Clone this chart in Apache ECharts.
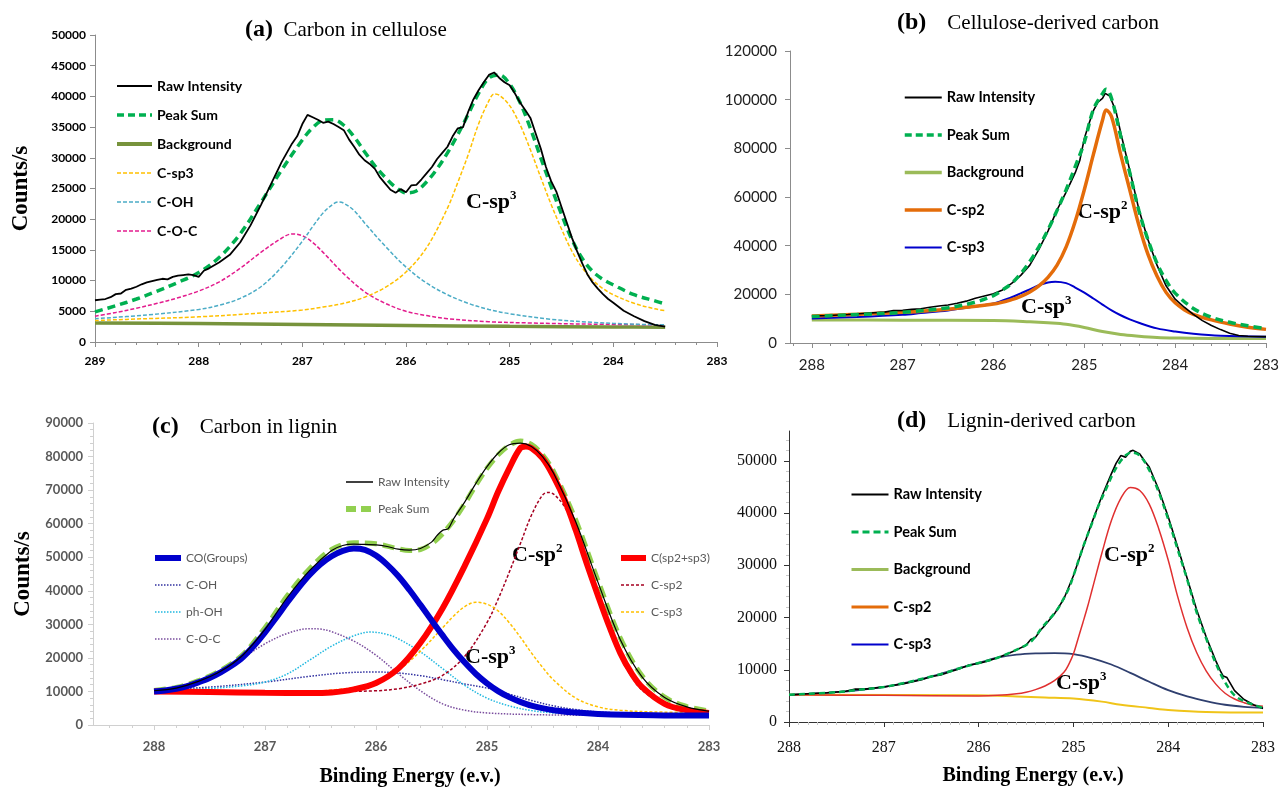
<!DOCTYPE html>
<html>
<head>
<meta charset="utf-8">
<title>C1s spectra of cellulose and lignin carbons</title>
<script src="https://cdn.jsdelivr.net/npm/echarts@6.0.0/dist/echarts.min.js"></script>
<style>
  html, body { margin: 0; padding: 0; background: #fff; }
  #chart { width: 1280px; height: 788px; }
</style>
</head>
<body>
<div id="chart"></div>
<script>
// tick labels
const xTicksA = [289, 288, 287, 286, 285, 284, 283]
const xTicks = [288, 287, 286, 285, 284, 283]
const yTicksA = [0, 5000, 10000, 15000, 20000, 25000, 30000, 35000, 40000, 45000, 50000]
const yTicksB = [0, 20000, 40000, 60000, 80000, 100000, 120000]
const yTicksC = [0, 10000, 20000, 30000, 40000, 50000, 60000, 70000, 80000, 90000]
const yTicksD = [0, 10000, 20000, 30000, 40000, 50000]

// (a) carbon in cellulose  [binding energy, counts/s]
const aRaw = [[289.0,6800],[288.95,6900],[288.9,7000],[288.85,7300],[288.8,7800],[288.75,7900],[288.7,8500],[288.65,8700],[288.6,9000],[288.55,9400],[288.5,9700],[288.45,9900],[288.4,10100],[288.35,10300],[288.3,10200],[288.25,10600],[288.2,10800],[288.15,10900],[288.1,11000],[288.05,10900],[288.0,10600],[287.95,11600],[287.9,12000],[287.8,13000],[287.7,14200],[287.6,16200],[287.5,19000],[287.4,22300],[287.3,25800],[287.2,29300],[287.1,32300],[287.05,33500],[287.0,35500],[286.95,37000],[286.9,36600],[286.85,36200],[286.8,35700],[286.75,35900],[286.7,35500],[286.65,35000],[286.6,34500],[286.55,33000],[286.5,31800],[286.45,30500],[286.4,29600],[286.35,29000],[286.3,28200],[286.25,26800],[286.2,25800],[286.15,24800],[286.1,24300],[286.05,24900],[286.0,24400],[285.95,25500],[285.9,25600],[285.85,26500],[285.8,27500],[285.75,28500],[285.7,29800],[285.65,30800],[285.6,31800],[285.55,33500],[285.5,34800],[285.45,35000],[285.4,37500],[285.35,39500],[285.3,41000],[285.25,42300],[285.2,43500],[285.15,43900],[285.1,43000],[285.05,42300],[285.0,41800],[284.95,40500],[284.9,39000],[284.85,37800],[284.8,36500],[284.75,34000],[284.7,31500],[284.65,28500],[284.6,26200],[284.55,24500],[284.5,22000],[284.45,19500],[284.4,17000],[284.35,14800],[284.3,12800],[284.25,11000],[284.2,9700],[284.15,8700],[284.1,7800],[284.05,7000],[284.0,6400],[283.9,5100],[283.8,4200],[283.7,3400],[283.6,2800],[283.5,2500]]
const aSum = [[289,4900],[288.8,5900],[288.6,7000],[288.4,8300],[288.2,9700],[288,11300],[287.8,13800],[287.6,17600],[287.4,22700],[287.2,28000],[287,32900],[286.9,34900],[286.8,36100],[286.7,36200],[286.6,35300],[286.5,33400],[286.4,31000],[286.3,28700],[286.2,26800],[286.1,25200],[286,24300],[285.9,24600],[285.8,26100],[285.7,28200],[285.6,30800],[285.5,33800],[285.4,37100],[285.3,40500],[285.2,43000],[285.1,43500],[285,42000],[284.9,39000],[284.8,34800],[284.7,30000],[284.6,25300],[284.5,20800],[284.4,16700],[284.3,13600],[284.2,11500],[284.1,10200],[284,9300],[283.8,7700],[283.6,6700],[283.5,6200]]
const aBg = [[289,3100],[288,3000],[287,2850],[286,2700],[285,2550],[284,2450],[283.5,2400]]
const aSp3 = [[289,3500],[288.5,3800],[288,4100],[287.5,4600],[287,5200],[286.8,5700],[286.6,6300],[286.4,7300],[286.2,8900],[286,11400],[285.8,15400],[285.6,21800],[285.5,26000],[285.4,30500],[285.3,35500],[285.2,39300],[285.15,40400],[285.1,40200],[285,38500],[284.9,35400],[284.8,31300],[284.7,26800],[284.6,22400],[284.5,18400],[284.4,14800],[284.3,12100],[284.2,10100],[284.1,8700],[284,7700],[283.8,6300],[283.6,5400],[283.5,5100]]
const aCOH = [[289,3800],[288.5,4400],[288,5300],[287.8,6000],[287.6,7100],[287.4,9000],[287.2,12200],[287,16400],[286.9,18800],[286.8,21000],[286.7,22500],[286.65,22800],[286.6,22600],[286.5,21400],[286.4,19400],[286.2,15600],[286,12200],[285.8,9600],[285.6,7700],[285.4,6300],[285.2,5300],[285,4600],[284.6,3700],[284.2,3200],[283.8,2900],[283.5,2800]]
const aCOC = [[289,4200],[288.8,4800],[288.6,5500],[288.4,6300],[288.2,7200],[288,8300],[287.8,9800],[287.6,12000],[287.4,14600],[287.2,16900],[287.1,17600],[287,17300],[286.9,16200],[286.8,14600],[286.6,11100],[286.4,8200],[286.2,6300],[286,5000],[285.8,4300],[285.6,3800],[285.2,3300],[284.8,3100],[284.2,2900],[283.5,2800]]

// (b) cellulose-derived carbon
const bRaw = [[288,11100],[287.8,11300],[287.6,11700],[287.4,12200],[287.2,12700],[287.1,13300],[287.0,13400],[286.9,13800],[286.8,14100],[286.7,14700],[286.6,15200],[286.5,15600],[286.4,16300],[286.3,17200],[286.2,18400],[286.1,19300],[286.0,20200],[285.9,21800],[285.8,24500],[285.7,27800],[285.6,32000],[285.5,38500],[285.4,46000],[285.3,54700],[285.2,62000],[285.1,70000],[285.05,75000],[285.0,84000],[284.95,90000],[284.9,95500],[284.85,99000],[284.8,100500],[284.77,102600],[284.72,101500],[284.65,95000],[284.6,86500],[284.5,71000],[284.4,55000],[284.3,42500],[284.2,32000],[284.1,23500],[284.0,18000],[283.9,14700],[283.8,11800],[283.7,9200],[283.6,7200],[283.5,5500],[283.4,4000],[283.3,3100],[283.2,2800],[283.0,2600]]
const bSum = [[288,10900],[287.5,11700],[287,12600],[286.5,14500],[286.2,16800],[286,19500],[285.9,21800],[285.8,24500],[285.7,28500],[285.6,33500],[285.5,39500],[285.4,46500],[285.3,54500],[285.2,63000],[285.1,72500],[285,82500],[284.9,96000],[284.8,102500],[284.76,104300],[284.7,100500],[284.6,85000],[284.5,70000],[284.4,54500],[284.3,42500],[284.2,32800],[284.1,25700],[284,20500],[283.8,14200],[283.6,10600],[283.4,8500],[283.2,7100],[283,5900]]
const bBg = [[288,9500],[287,9400],[286,9200],[285.6,8700],[285.4,8300],[285.2,7700],[285,6400],[284.8,4700],[284.6,3500],[284.4,2800],[284.2,2300],[284,2100],[283.5,1900],[283,1900]]
const bSp2 = [[288,11100],[287.5,11800],[287,12600],[286.5,13900],[286,16000],[285.8,17800],[285.7,19200],[285.6,21000],[285.5,23500],[285.4,27000],[285.3,32000],[285.2,39500],[285.1,50000],[285,63000],[284.9,77500],[284.8,91500],[284.76,95800],[284.7,93000],[284.6,77500],[284.5,63000],[284.4,48500],[284.3,36500],[284.2,27500],[284.1,20800],[284,16500],[283.9,13700],[283.8,11800],[283.6,9500],[283.4,7800],[283.2,6500],[283,5600]]
const bSp3 = [[288,10100],[287.5,10700],[287,11600],[286.8,12300],[286.5,13400],[286.2,15000],[286,16200],[285.8,18800],[285.7,20400],[285.6,22000],[285.5,23800],[285.4,24900],[285.32,25200],[285.2,24600],[285.1,22800],[285,20700],[284.9,18300],[284.8,15800],[284.7,13400],[284.6,11400],[284.5,9700],[284.4,8300],[284.2,6000],[284,4700],[283.8,3800],[283.5,3000],[283,2600]]

// (c) carbon in lignin
const cRaw = [[288,10200],[287.8,11000],[287.6,13000],[287.4,16000],[287.2,20800],[287,28500],[286.8,38000],[286.6,46000],[286.4,52000],[286.3,53500],[286.2,53900],[286.1,53800],[286,53700],[285.9,53200],[285.8,52400],[285.7,52100],[285.6,52600],[285.5,54500],[285.45,56500],[285.4,58000],[285.35,58500],[285.3,61500],[285.2,66500],[285.1,72000],[285,77000],[284.9,81000],[284.8,83500],[284.7,84000],[284.6,83000],[284.5,80000],[284.4,75000],[284.2,60500],[284,42500],[283.8,25500],[283.6,14200],[283.4,8200],[283.2,5400],[283,4100]]
const cSum = [[288,10300],[287.8,11200],[287.6,13200],[287.4,16300],[287.2,21000],[287,29000],[286.8,38500],[286.6,46500],[286.4,52300],[286.2,54300],[286,54000],[285.8,52500],[285.7,52000],[285.6,52300],[285.5,54000],[285.4,57000],[285.3,61000],[285.2,66000],[285.1,71500],[285,76500],[284.9,80500],[284.8,83300],[284.7,84600],[284.6,83600],[284.5,80500],[284.4,75500],[284.2,61000],[284,43000],[283.8,26000],[283.6,14500],[283.4,8300],[283.2,5500],[283,4200]]
const cCO = [[288,10000],[287.9,10300],[287.8,10800],[287.7,11600],[287.6,12700],[287.5,14000],[287.4,15700],[287.3,17700],[287.2,20200],[287.1,23600],[287,27600],[286.9,32000],[286.8,36500],[286.7,40800],[286.6,44700],[286.5,47900],[286.4,50300],[286.3,51900],[286.2,52600],[286.1,52200],[286,50500],[285.9,47800],[285.8,44400],[285.7,40300],[285.6,35800],[285.5,31200],[285.4,26700],[285.3,22400],[285.2,18600],[285.1,15200],[285,12400],[284.9,10100],[284.8,8300],[284.7,6900],[284.6,5800],[284.4,4400],[284.2,3700],[284,3300],[283.5,2900],[283,2800]]
const cCOH = [[288,10500],[287.5,11300],[287,12800],[286.6,14500],[286.3,15500],[286,15800],[285.8,15500],[285.6,14700],[285.4,13500],[285.2,12200],[285,11000],[284.8,9200],[284.6,7300],[284.4,5700],[284.2,4600],[284,3900],[283.5,3200],[283,3000]]
const cPhOH = [[288,10200],[287.5,10900],[287.2,11700],[287,12800],[286.8,15200],[286.6,19300],[286.4,23500],[286.2,26600],[286.05,27700],[285.9,27000],[285.8,25700],[285.6,21800],[285.4,16800],[285.2,11800],[285,8000],[284.8,5700],[284.6,4300],[284.4,3600],[284,3100],[283,2900]]
const cCOC = [[288,10200],[287.8,11400],[287.6,13300],[287.4,16200],[287.2,20000],[287,24200],[286.8,27300],[286.6,28700],[286.5,28600],[286.4,27800],[286.2,25000],[286,20800],[285.8,15300],[285.6,10200],[285.4,6300],[285.2,4400],[285,3600],[284.6,3100],[284,2900],[283,2800]]
const cSp23 = [[288,10000],[287.5,9800],[287,9600],[286.6,9500],[286.4,9700],[286.2,10600],[286,12500],[285.8,16800],[285.6,24500],[285.4,34800],[285.2,47500],[285,61500],[284.9,69500],[284.8,76500],[284.7,82500],[284.65,83000],[284.6,82500],[284.5,79500],[284.4,74000],[284.3,67000],[284.2,58000],[284.1,48000],[284,38500],[283.9,29500],[283.8,21500],[283.7,15500],[283.6,11200],[283.4,6300],[283.2,4400],[283,3600]]
const cSp2 = [[288,10000],[287,9900],[286.4,10000],[286,10200],[285.8,10800],[285.6,12200],[285.4,14800],[285.2,20500],[285,30500],[284.9,37500],[284.8,45500],[284.7,54000],[284.6,62500],[284.5,68500],[284.45,69300],[284.4,68800],[284.3,65000],[284.2,57500],[284.1,48000],[284,38000],[283.9,28500],[283.8,20500],[283.7,14500],[283.6,10300],[283.4,6000],[283.2,4300],[283,3700]]
const cSp3 = [[288,10000],[287,9900],[286.6,10000],[286.4,10400],[286.2,11200],[286,12800],[285.8,16300],[285.6,22000],[285.4,29000],[285.3,32500],[285.2,35300],[285.1,36600],[285,36000],[284.9,34000],[284.8,30500],[284.7,26200],[284.6,21500],[284.5,17200],[284.4,13400],[284.2,8000],[284,5400],[283.8,4400],[283.5,3900],[283,3700]]

// (d) lignin-derived carbon
const dRaw = [[288,5200],[287.8,5400],[287.6,5600],[287.4,5900],[287.3,6300],[287.2,6300],[287,6700],[286.8,7300],[286.6,8100],[286.5,8700],[286.4,9000],[286.3,9600],[286.2,10200],[286.1,10900],[286,11200],[285.9,11700],[285.8,12300],[285.7,13000],[285.6,13800],[285.5,14700],[285.45,15800],[285.4,16200],[285.35,17500],[285.3,18500],[285.2,20700],[285.1,23600],[285,28000],[284.9,33300],[284.8,38400],[284.7,43200],[284.6,47500],[284.55,49500],[284.5,51000],[284.45,50700],[284.4,51800],[284.37,52000],[284.3,51300],[284.25,50000],[284.2,48800],[284.1,44500],[284,39300],[283.9,33500],[283.8,27500],[283.7,21500],[283.6,16300],[283.5,11800],[283.45,9800],[283.42,8800],[283.38,8500],[283.3,6000],[283.2,4300],[283.1,3300],[283,2600]]
const dSum = [[288,5200],[287.5,5700],[287.3,6100],[287,6700],[286.8,7400],[286.5,8700],[286.35,9400],[286.2,10300],[286,11300],[285.8,12300],[285.68,13200],[285.5,14700],[285.43,15700],[285.32,18300],[285.2,20800],[285.15,22100],[285.05,25500],[284.99,28500],[284.93,31800],[284.87,34900],[284.8,38200],[284.74,41200],[284.65,44800],[284.58,47600],[284.5,50000],[284.45,51000],[284.39,51600],[284.3,51000],[284.2,48200],[284.1,44000],[284,38800],[283.9,33000],[283.8,27300],[283.7,21000],[283.6,16000],[283.5,11300],[283.4,7600],[283.3,5100],[283.2,4000],[283.1,3300],[283,2700]]
const dBg = [[288,5200],[286,5100],[285.6,4900],[285.3,4700],[285,4500],[284.7,3900],[284.5,3300],[284.2,2700],[284,2300],[283.6,1900],[283,1800]]
const dSp2 = [[288,5200],[287,5100],[286,5000],[285.8,5100],[285.6,5400],[285.5,5700],[285.4,6200],[285.3,6900],[285.2,7900],[285.1,9500],[285.05,11000],[285,13000],[284.95,16000],[284.9,19000],[284.85,22100],[284.8,25500],[284.7,32300],[284.6,38500],[284.5,42800],[284.4,44900],[284.3,44300],[284.2,41700],[284.1,37000],[284,31000],[283.9,24000],[283.8,18000],[283.7,13300],[283.6,9800],[283.5,7300],[283.4,5500],[283.3,4400],[283.2,3700],[283.1,3200],[283,3000]]
const dSp3 = [[288,5200],[287.5,5700],[287,6700],[286.8,7400],[286.5,8700],[286.2,10300],[286,11300],[285.8,12300],[285.6,12900],[285.4,13150],[285.2,13200],[285,13000],[284.8,12200],[284.6,11000],[284.4,9400],[284.2,7700],[284,6100],[283.8,4900],[283.6,4000],[283.4,3300],[283.2,2900],[283,2700]]

const serif = '"Liberation Serif", "Times New Roman", serif'
const sans = 'Lato, "Open Sans", sans-serif'
const plain = v => '' + v

const chart = echarts.init(document.getElementById('chart'), null, { renderer: 'canvas' })

const curve = (name, data, idx, color, width, type, smooth) => ({
  name, type: 'line', data, xAxisIndex: idx, yAxisIndex: idx,
  symbol: 'none', smooth: smooth ? 0.35 : false, silent: true,
  lineStyle: { color, width, type: type || 'solid', cap: 'butt' },
  itemStyle: { color },
  emphasis: { disabled: true }
})

// legend blocks: items are [name, color, width, dash]
const legendBlock = (left, top, gap, w, h, textStyle, items) => ({
  left, top, orient: 'vertical', padding: 0, itemGap: gap, itemWidth: w, itemHeight: h,
  selectedMode: false, textStyle,
  itemStyle: { opacity: 0, borderWidth: 0 },
  data: items.map(([name, color, width, type]) => ({
    name, lineStyle: { color, width, type: type || 'solid', opacity: 1 }
  }))
})

const energyAxis = (idx, max, ticks, lineColor, label, extra) => Object.assign({
  gridIndex: idx, type: 'value', inverse: true, min: 283, max, interval: 1,
  axisLine: { show: true, onZero: false, lineStyle: { color: lineColor, width: 1 } },
  axisTick: { show: true, customValues: ticks, length: 5, lineStyle: { color: lineColor } },
  minorTick: { show: true, splitNumber: 5, length: 3, lineStyle: { color: lineColor } },
  splitLine: { show: false }, minorSplitLine: { show: false },
  axisLabel: Object.assign({ customValues: ticks, formatter: plain }, label)
}, extra || {})

const countAxis = (idx, max, interval, ticks, lineColor, label, extra) => Object.assign({
  gridIndex: idx, type: 'value', min: 0, max, interval,
  axisLine: { show: true, lineStyle: { color: lineColor, width: 1 } },
  axisTick: { show: true, customValues: ticks, length: 5, lineStyle: { color: lineColor } },
  splitLine: { show: false },
  axisLabel: Object.assign({ customValues: ticks, formatter: plain }, label)
}, extra || {})

const yName = { name: 'Counts/s', nameLocation: 'middle', nameRotate: 90,
  nameTextStyle: { fontFamily: serif, fontWeight: 'bold', fontSize: 23, color: '#000' } }
const xName = (pad) => ({ name: 'Binding Energy (e.v.)', nameLocation: 'middle',
  nameTextStyle: { fontFamily: serif, fontWeight: 'bold', fontSize: 20, color: '#000', padding: [0, 0, 0, pad] } })

const titleRich = {
  b: { fontFamily: serif, fontWeight: 'bold', fontSize: 24, color: '#000' },
  t: { fontFamily: serif, fontWeight: 'normal', fontSize: 21, color: '#000' }
}
const annoRich = {
  m: { fontFamily: serif, fontWeight: 'bold', fontSize: 22, lineHeight: 26, fill: '#000', color: '#000' },
  s: { fontFamily: serif, fontWeight: 'bold', fontSize: 13, lineHeight: 26, verticalAlign: 'top', fill: '#000', color: '#000' }
}
const anno = (x, y, sup) => ({
  type: 'text', x, y, silent: true,
  style: { text: '{m|C-sp}{s|' + sup + '}', rich: annoRich, verticalAlign: 'middle', align: 'left' }
})

const boldSans = (size, color) => ({ fontFamily: sans, fontWeight: 'bold', fontSize: size, color })

chart.setOption({
  animation: false,
  backgroundColor: '#fff',
  title: [
    { left: 245, top: 18, padding: 0, text: '{b|(a)}{t|  Carbon in cellulose}', textStyle: { fontWeight: 'normal', rich: titleRich } },
    { left: 897, top: 11, padding: 0, text: '{b|(b)}{t|    Cellulose-derived carbon}', textStyle: { fontWeight: 'normal', rich: titleRich } },
    { left: 152, top: 415, padding: 0, text: '{b|(c)}{t|    Carbon in lignin}', textStyle: { fontWeight: 'normal', rich: titleRich } },
    { left: 897, top: 409, padding: 0, text: '{b|(d)}{t|    Lignin-derived carbon}', textStyle: { fontWeight: 'normal', rich: titleRich } }
  ],
  grid: [
    { left: 95, right: 563, top: 35, bottom: 446, containLabel: false, outerBoundsMode: 'none' },
    { left: 790, right: 14, top: 51, bottom: 445, containLabel: false, outerBoundsMode: 'none' },
    { left: 93, right: 571, top: 423, bottom: 63, containLabel: false, outerBoundsMode: 'none' },
    { left: 789, right: 17, top: 431, bottom: 66, containLabel: false, outerBoundsMode: 'none' }
  ],
  xAxis: [
    energyAxis(0, 289, xTicksA, '#8c8c8c', Object.assign({ margin: 13 }, boldSans(12, '#000'))),
    energyAxis(1, 288.24, xTicks, '#8c8c8c', { margin: 15, fontFamily: sans, fontSize: 15, color: '#222' }),
    energyAxis(2, 288.55, xTicks, '#d0d0d0', Object.assign({ margin: 15 }, boldSans(13, '#595959')),
      Object.assign({ nameGap: 42 }, xName(18))),
    energyAxis(3, 288, xTicks, '#333', { margin: 18, fontFamily: serif, fontSize: 16, color: '#111' },
      Object.assign({ nameGap: 44, minorTick: { show: true, splitNumber: 10, length: 3, lineStyle: { color: '#c8c8c8' } } }, xName(14)))
  ],
  yAxis: [
    countAxis(0, 50000, 5000, yTicksA, '#8c8c8c', Object.assign({ margin: 9 }, boldSans(12, '#000')),
      Object.assign({ nameGap: 62 }, yName)),
    countAxis(1, 120000, 20000, yTicksB, '#8c8c8c', { margin: 13, fontFamily: sans, fontSize: 15, color: '#222' }),
    countAxis(2, 90000, 10000, yTicksC, '#d0d0d0', Object.assign({ margin: 10 }, boldSans(13, '#595959')),
      Object.assign({ nameGap: 58, minorTick: { show: true, splitNumber: 5, length: 3, lineStyle: { color: '#d0d0d0' } } }, yName)),
    countAxis(3, 55700, 10000, yTicksD, '#333', { margin: 12, fontFamily: serif, fontSize: 16, color: '#111' },
      { minorTick: { show: true, splitNumber: 5, length: 3, lineStyle: { color: '#c8c8c8' } } })
  ],
  legend: [
    legendBlock(115, 79, 15, 35, 14, boldSans(14, '#000'), [
      ['Raw Intensity', '#000', 2], ['Peak Sum', '#00b050', 3.5, [7, 4]], ['Background', '#77933c', 4],
      ['C-sp3', '#ffc000', 1.5, [4, 2]], ['C-OH', '#4bacc6', 1.5, [4, 2]], ['C-O-C', '#e31c8e', 1.5, [4, 2]]
    ]),
    legendBlock(903, 90, 22.5, 37, 14, boldSans(14.5, '#000'), [
      ['Raw Intensity', '#000', 2], ['Peak Sum', '#00b050', 3.5, [7, 4]], ['Background', '#9bbb59', 3.5],
      ['C-sp2', '#e46c0a', 3.5], ['C-sp3', '#0000cc', 2]
    ]),
    legendBlock(343, 476, 15, 27, 12, { fontFamily: sans, fontSize: 12, color: '#595959' }, [
      ['Raw Intensity', '#000', 1.5], ['Peak Sum', '#92d050', 6, [10, 5]]
    ]),
    legendBlock(152, 552, 15, 26, 12, { fontFamily: sans, fontSize: 12, color: '#595959' }, [
      ['CO(Groups)', '#0000cc', 6], ['C-OH', '#3030a0', 1.5, [1.5, 1.5]],
      ['ph-OH', '#1fb8e0', 1.5, [1.5, 1.5]], ['C-O-C', '#7a4d9e', 1.5, [1.5, 1.5]]
    ]),
    legendBlock(618, 552, 15, 25, 12, { fontFamily: sans, fontSize: 12, color: '#595959' }, [
      ['C(sp2+sp3)', '#ff0000', 6], ['C-sp2', '#a50021', 1.5, [3, 2]], ['C-sp3', '#ffc000', 1.5, [3, 2]]
    ]),
    legendBlock(850, 487, 22.5, 37, 14, boldSans(14.5, '#000'), [
      ['Raw Intensity', '#000', 2], ['Peak Sum', '#00b050', 3, [7, 4]], ['Background', '#9bbb59', 3],
      ['C-sp2', '#e46c0a', 3], ['C-sp3', '#0000cc', 2]
    ])
  ],
  graphic: [
    anno(466, 202, '3'),
    anno(1077, 212, '2'), anno(1021, 307, '3'),
    anno(512, 555, '2'), anno(465, 657, '3'),
    anno(1104, 555, '2'), anno(1056, 683, '3')
  ],
  series: [
    // (a)
    curve('Background', aBg, 0, '#77933c', 3.5, 'solid', true),
    curve('C-O-C', aCOC, 0, '#e31c8e', 1.5, [4, 2], true),
    curve('C-OH', aCOH, 0, '#4bacc6', 1.5, [4, 2], true),
    curve('C-sp3', aSp3, 0, '#ffc000', 1.5, [4, 2], true),
    curve('Peak Sum', aSum, 0, '#00b050', 3.5, [8, 5], true),
    curve('Raw Intensity', aRaw, 0, '#000', 1.8),
    // (b)
    curve('Background', bBg, 1, '#9bbb59', 3, 'solid', true),
    curve('C-sp3', bSp3, 1, '#0000cc', 2, 'solid', true),
    curve('C-sp2', bSp2, 1, '#e46c0a', 3.5, 'solid', true),
    curve('Raw Intensity', bRaw, 1, '#000', 1.6),
    curve('Peak Sum', bSum, 1, '#00b050', 3.5, [8, 5], true),
    // (c)
    curve('C-OH', cCOH, 2, '#3030a0', 1.5, [1.5, 1.5], true),
    curve('ph-OH', cPhOH, 2, '#1fb8e0', 1.5, [1.5, 1.5], true),
    curve('C-O-C', cCOC, 2, '#7a4d9e', 1.5, [1.5, 1.5], true),
    curve('C-sp2', cSp2, 2, '#a50021', 1.5, [3, 2], true),
    curve('C-sp3', cSp3, 2, '#ffc000', 1.5, [3, 2], true),
    curve('Peak Sum', cSum, 2, '#92d050', 5, [12, 6], true),
    curve('C(sp2+sp3)', cSp23, 2, '#ff0000', 6, 'solid', true),
    curve('CO(Groups)', cCO, 2, '#0000cc', 6, 'solid', true),
    curve('Raw Intensity', cRaw, 2, '#000', 1.2, 'solid', true),
    // (d)
    curve('Background', dBg, 3, '#f0c419', 2, 'solid', true),
    curve('C-sp3', dSp3, 3, '#2f3f6f', 1.8, 'solid', true),
    curve('C-sp2', dSp2, 3, '#e03030', 1.5, 'solid', true),
    curve('Raw Intensity', dRaw, 3, '#000', 1.6),
    curve('Peak Sum', dSum, 3, '#00b050', 2.5, [6, 4], true)
  ]
})
</script>
</body>
</html>
